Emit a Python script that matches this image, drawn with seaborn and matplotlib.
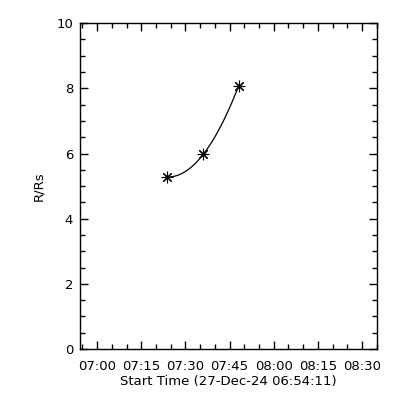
import matplotlib
matplotlib.use("Agg")
import matplotlib.pyplot as plt
import pandas as pd
import numpy as np
import seaborn as sns
from matplotlib.ticker import MultipleLocator

# Height-time data
start_time = "2024-12-27 06:54:11"
obs_times = ["2024-12-27 07:23:45", "2024-12-27 07:36:05", "2024-12-27 07:48:05"]
heights = [5.28, 5.98, 8.08]
tick_times = ["07:00", "07:15", "07:30", "07:45", "08:00", "08:15", "08:30"]

start = pd.Timestamp(start_time)
df = pd.DataFrame({
    "minutes": (pd.to_datetime(obs_times) - start).total_seconds() / 60.0,
    "height": heights,
})
tick_pos = [(pd.Timestamp("2024-12-27 " + t) - start).total_seconds() / 60.0 for t in tick_times]

sns.set_style("ticks")
plt.rcParams["font.family"] = ["DejaVu Sans"]
plt.rcParams["text.color"] = "black"
plt.rcParams["axes.labelcolor"] = "black"
plt.rcParams["xtick.color"] = "black"
plt.rcParams["ytick.color"] = "black"

fig = plt.figure(figsize=(4, 4), dpi=100)
ax = fig.add_axes([0.2, 0.1275, 0.742, 0.8145])

# quadratic fit through the points, like the original height-time fit
sns.regplot(data=df, x="minutes", y="height", order=2, ci=None, scatter=False,
            truncate=True, color="black", line_kws={"linewidth": 0.9}, ax=ax)
sns.scatterplot(data=df, x="minutes", y="height", marker=(8, 2, 0), s=60,
                color="black", linewidth=0.8, ax=ax)

ax.set_xlim(0, 100)
ax.set_ylim(0, 10)
ax.set_xticks(tick_pos)
ax.set_xticklabels(tick_times)
ax.set_xticks([tick_pos[0] - 5 + k * 5 for k in range(21)], minor=True)
ax.yaxis.set_major_locator(MultipleLocator(2))
ax.yaxis.set_minor_locator(MultipleLocator(0.5))

ax.tick_params(which="both", direction="in", top=True, right=True,
               width=1, labelsize=9.5, labelcolor="black")
ax.tick_params(axis="x", which="major", pad=8)
ax.tick_params(axis="y", which="major", pad=5)
ax.tick_params(which="major", length=6)
ax.tick_params(which="minor", length=3.5)
for s in ax.spines.values():
    s.set_linewidth(1)
    s.set_color("black")

ax.set_xlabel("Start Time (27-Dec-24 06:54:11)", fontsize=9.5, labelpad=1)
ax.set_ylabel("R/Rs", fontsize=9.5)
ax.yaxis.set_label_coords(-0.117, 0.5)

fig.savefig("out.png", dpi=100)
